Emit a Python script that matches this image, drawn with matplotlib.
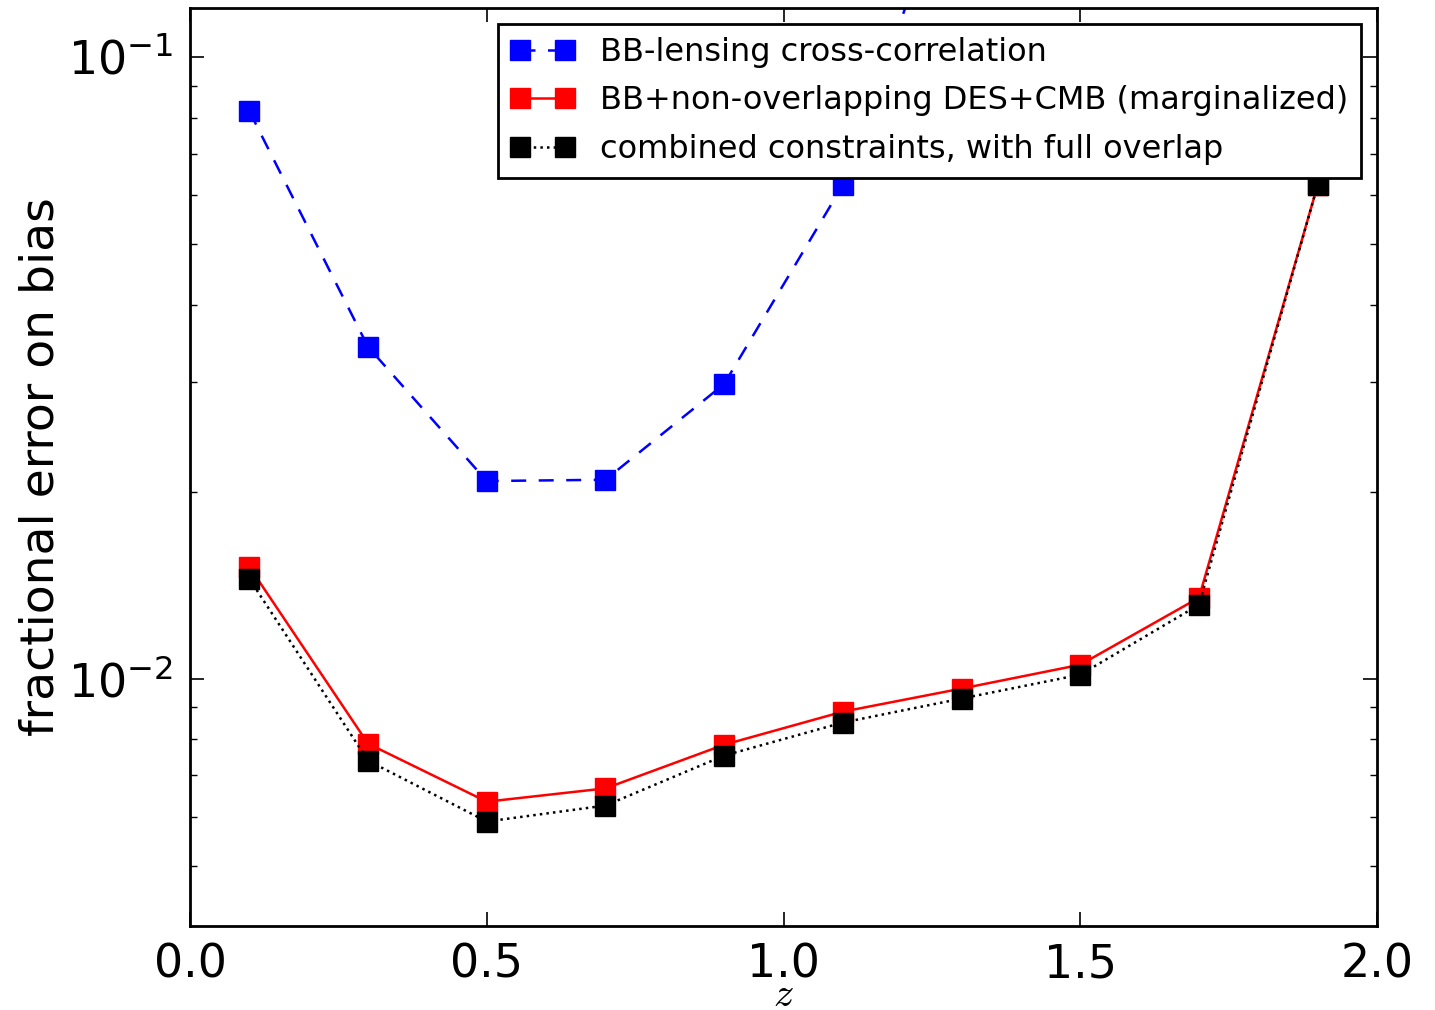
import matplotlib
matplotlib.use("Agg")
import matplotlib.pyplot as plt

plt.rcParams["mathtext.fontset"] = "cm"

# redshift bins
z = [0.1, 0.3, 0.5, 0.7, 0.9, 1.1, 1.3, 1.5, 1.7, 1.9]

# fractional error on bias
err_bb_lensing = [0.0819, 0.0342, 0.0208, 0.0209, 0.0298, 0.0623, 0.217, 0.45, 0.9, 1.6]
err_bb_des_cmb = [0.01514, 0.00786, 0.00634, 0.00666, 0.00783, 0.00885, 0.00964, 0.01053, 0.0135, 0.0623]
err_combined = [0.01448, 0.00738, 0.00589, 0.00625, 0.00752, 0.0085, 0.00929, 0.01015, 0.01315, 0.0623]

labels = [
    "BB-lensing cross-correlation",
    "BB+non-overlapping DES+CMB (marginalized)",
    "combined constraints, with full overlap",
]

fig = plt.figure(figsize=(14.35, 10.1), dpi=100)
ax = fig.add_axes([0.1324, 0.0832, 0.8272, 0.9088])

ax.plot(z, err_bb_lensing, "s--", color="b", mec="b", ms=15, lw=1.8, dashes=(6, 5), label=labels[0])
ax.plot(z, err_bb_des_cmb, "s-", color="r", mec="r", ms=15, lw=1.8, label=labels[1])
ax.plot(z, err_combined, "s:", color="k", mec="k", ms=15, lw=1.8, label=labels[2])

ax.set_yscale("log")
ax.set_xlim(0, 2)
ax.set_ylim(0.004, 0.12)
ax.set_xticks([0.0, 0.5, 1.0, 1.5, 2.0])
ax.set_xticklabels(["0.0", "0.5", "1.0", "1.5", "2.0"])

ax.tick_params(which="both", direction="in", top=True, right=True, labelsize=33, pad=12)
ax.tick_params(which="major", length=10, width=1.2)
ax.tick_params(which="minor", length=5, width=1.0)
for s in ax.spines.values():
    s.set_linewidth(2)

ax.set_xlabel("$z$", fontsize=29, labelpad=-9)
ax.set_ylabel("fractional error on bias", fontsize=34, labelpad=3)

leg = ax.legend(loc="upper right", numpoints=2, fontsize=23, fancybox=False,
                framealpha=1, edgecolor="k", borderaxespad=0.5, handlelength=2.0,
                handletextpad=0.8, labelspacing=0.55)
leg.get_frame().set_linewidth(2)

fig.savefig("out.png", dpi=100)
